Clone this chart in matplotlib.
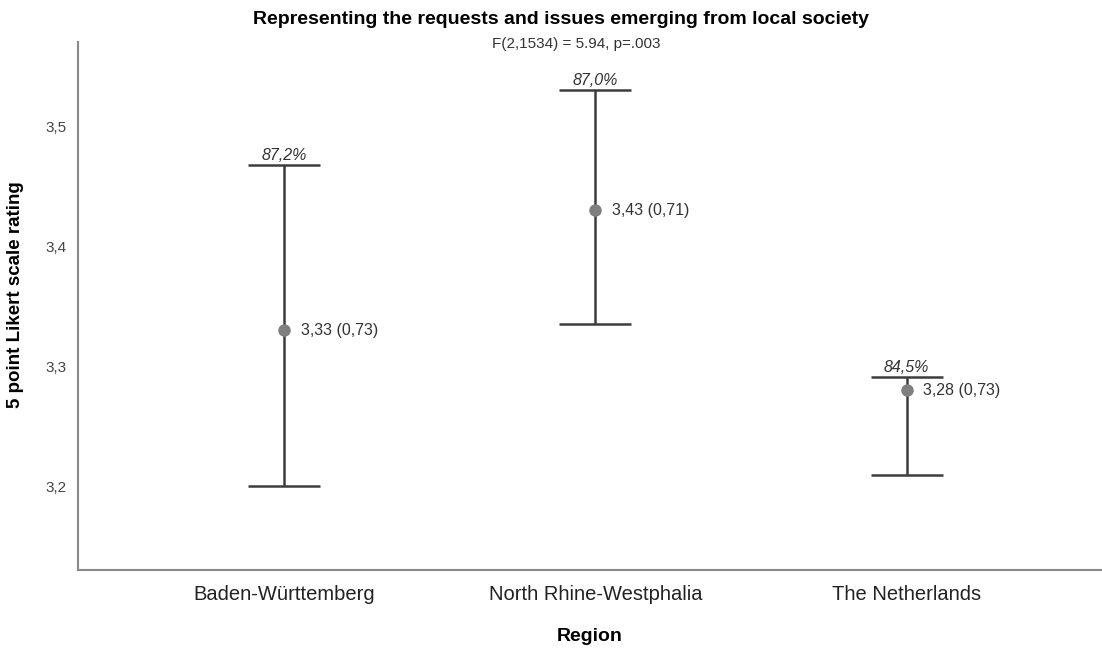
import matplotlib
matplotlib.use("Agg")
import matplotlib.pyplot as plt

plt.rcParams['font.family'] = ['Liberation Sans', 'DejaVu Sans']

# group summaries per region
regions = ['Baden-Württemberg', 'North Rhine-Westphalia', 'The Netherlands']
means = [3.33, 3.43, 3.28]
sds = [0.73, 0.71, 0.73]
ci_low = [3.200, 3.335, 3.209]
ci_high = [3.4675, 3.530, 3.291]
pct_labels = ['87,2%', '87,0%', '84,5%']
y_ticks = [3.2, 3.3, 3.4, 3.5]

title = 'Representing the requests and issues emerging from local society'
subtitle = 'F(2,1534) = 5.94, p=.003'


def comma(v, nd):
    return ('%.' + str(nd) + 'f') % v


fig = plt.figure(figsize=(11.02, 6.5), dpi=100)
ax = fig.add_axes([78 / 1102, 1 - 570 / 650, 1024 / 1102, 528 / 650])

xs = list(range(len(regions)))
line_col = '#3d3d3d'

for x, m, lo, hi in zip(xs, means, ci_low, ci_high):
    ax.errorbar(x, m, yerr=[[m - lo], [hi - m]], fmt='none', ecolor=line_col,
                elinewidth=1.8, capsize=26, capthick=1.8, zorder=2)
ax.plot(xs, means, 'o', color='#7f7f7f', markersize=9, markeredgewidth=0, zorder=3, ls='none')

for x, m, s, hi, p in zip(xs, means, sds, ci_high, pct_labels):
    ax.annotate(comma(m, 2).replace('.', ',') + ' (' + comma(s, 2).replace('.', ',') + ')',
                (x, m), xytext=(12, 0), textcoords='offset points', ha='left', va='center',
                fontsize=11.5, color='#333333')
    ax.annotate(p, (x, hi), xytext=(0, 1.5), textcoords='offset points', ha='center',
                va='bottom', fontsize=11.5, style='italic', color='#333333')

ax.set_xlim(-0.663, 2.628)
ax.set_ylim(3.13, 3.57)
ax.set_xticks(xs)
ax.set_xticklabels(regions, fontsize=14.5, color='#222222')
ax.set_yticks(y_ticks)
ax.set_yticklabels([comma(v, 1).replace('.', ',') for v in y_ticks], fontsize=11, color='#444444')
ax.tick_params(length=0, pad=8)
ax.tick_params(axis='x', pad=11)

for side in ['top', 'right']:
    ax.spines[side].set_visible(False)
for side in ['left', 'bottom']:
    ax.spines[side].set_color('#8a8a8a')
    ax.spines[side].set_linewidth(1.5)

ax.set_ylabel('5 point Likert scale rating', fontsize=13.5, fontweight='bold', labelpad=12)
ax.yaxis.set_label_coords(-54 / 1024, (570 - 295) / 528)
ax.set_xlabel('Region', fontsize=14, fontweight='bold', labelpad=17)

fig.text(561 / 1102, 1 - 19 / 650, title, ha='center', va='center', fontsize=14, fontweight='bold')
fig.text(576 / 1102, 1 - 44 / 650, subtitle, ha='center', va='center', fontsize=11, color='#333333')

fig.savefig('out.png', dpi=100)
